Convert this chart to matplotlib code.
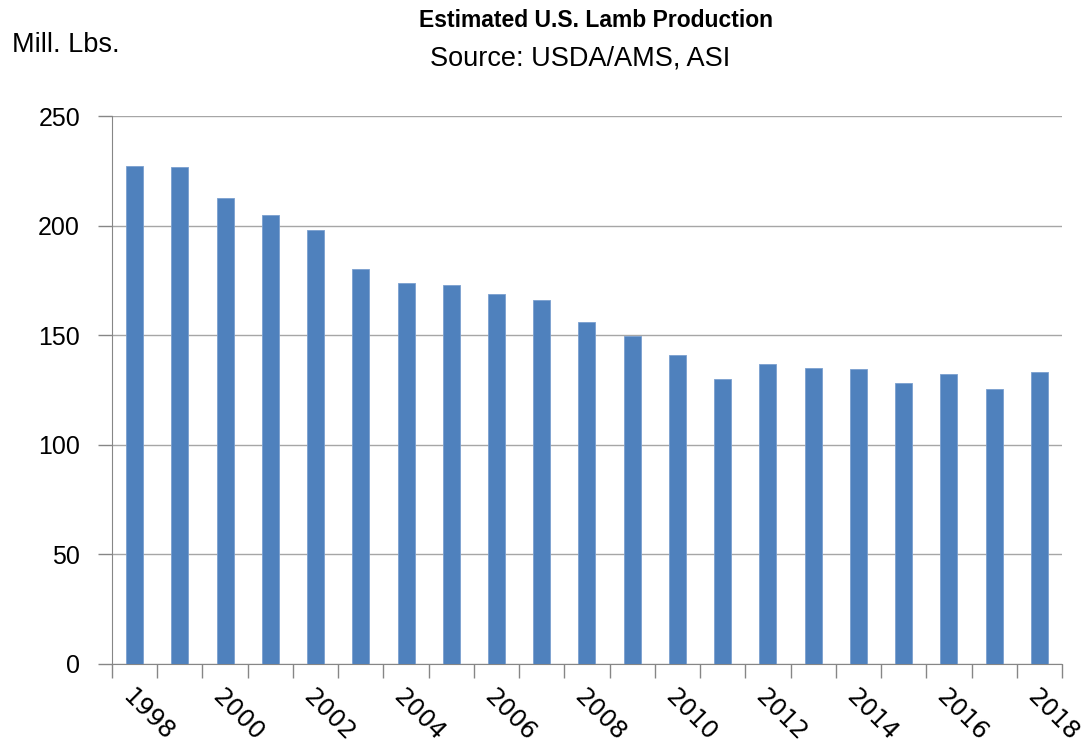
import numpy as np
import matplotlib
matplotlib.use('Agg')
import matplotlib.pyplot as plt
from matplotlib.ticker import FixedLocator, NullFormatter

plt.rcParams['font.family'] = ['Liberation Sans', 'DejaVu Sans']

# values (million lbs)
years = list(range(1998, 2019))
production = [227.0, 226.6, 212.6, 204.8, 197.9, 180.2, 173.8, 172.9, 168.8, 166.0,
              156.0, 149.6, 140.9, 130.0, 136.8, 135.0, 134.5, 128.1, 132.3, 125.3, 133.3]
y_ticks = [0, 50, 100, 150, 200, 250]

fig = plt.figure(figsize=(10.87, 7.48), dpi=100)
ax = fig.add_axes([0.103, 0.1123, 0.874, 0.7326])

x = np.arange(len(years))
ax.bar(x, production, width=0.375, color='#4f81bd', edgecolor='#7a9fcf',
       linewidth=0.6, zorder=3)

ax.set_xlim(-0.5, len(years) - 0.5)
ax.set_ylim(0, 250)
ax.set_yticks(y_ticks)
ax.yaxis.grid(True, color='#a6a6a6', linewidth=1.0, zorder=0)

# category boundary ticks, labels for every other year
ax.xaxis.set_major_locator(FixedLocator(np.arange(-0.5, len(years), 1.0)))
ax.xaxis.set_major_formatter(NullFormatter())
ax.xaxis.set_minor_locator(FixedLocator(x[::2]))
ax.set_xticklabels([str(y) for y in years[::2]], minor=True)
ax.tick_params(axis='x', which='major', direction='out', length=10, color='#868686', width=1)
ax.tick_params(axis='x', which='minor', length=0, pad=15)
for lbl in ax.get_xticklabels(minor=True):
    lbl.set_rotation(-45)
    lbl.set_ha('left')
    lbl.set_va('top')
    lbl.set_rotation_mode('anchor')
    lbl.set_fontsize(17.5)
    lbl.set_family(['DejaVu Sans'])

ax.tick_params(axis='y', direction='out', length=10, color='#868686', width=1,
               labelsize=18, pad=13)

for side in ['top', 'right']:
    ax.spines[side].set_visible(False)
ax.spines['left'].set_color('#868686')
ax.spines['bottom'].set_color('#868686')

fig.text(0.548, 0.972, 'Estimated U.S. Lamb Production', ha='center', va='center',
         fontsize=16.5, fontweight='bold')
fig.text(0.534, 0.922, 'Source: USDA/AMS, ASI', ha='center', va='center', fontsize=19.5)
fig.text(0.011, 0.94, 'Mill. Lbs.', ha='left', va='center', fontsize=19.5)

fig.savefig('out.png', dpi=100)
